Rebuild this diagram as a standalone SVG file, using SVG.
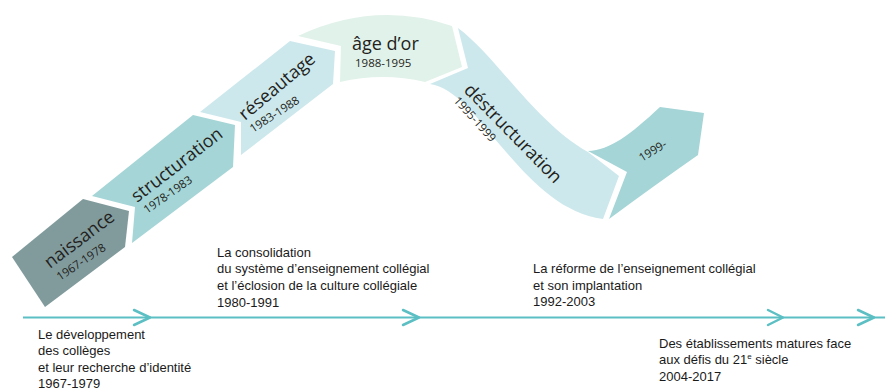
<svg xmlns="http://www.w3.org/2000/svg" width="885" height="390" viewBox="0 0 885 390">
<style>
.name{font-family:"Open Sans","Noto Sans",sans-serif;font-size:18px;fill:#231f20}
.date{font-family:"Open Sans","Noto Sans",sans-serif;font-size:11.5px;fill:#231f20}
.lbl{font-family:"Liberation Sans",Arial,sans-serif;font-size:13px;fill:#1a1a1a}
.tl{stroke:#5bbfc3;stroke-width:2;fill:none}
.chev{stroke:#5bbfc3;stroke-width:2.5;fill:none;stroke-linecap:round;stroke-linejoin:round}
</style>
<rect width="885" height="390" fill="#ffffff"/>
<g id="naissance">
<polygon points="12,257 83,199 129,211 125,247 45,307" fill="#819b9d"/>
<text class="name" transform="translate(50,269) rotate(-37)">naissance</text>
<text class="date" transform="translate(60,281) rotate(-34)">1967-1978</text>
</g>
<g id="structuration">
<polygon points="92,196 193,115 235,125 233,167 132,243 135,207" fill="#a5d5d6"/>
<text class="name" transform="translate(137,203) rotate(-37.5)">structuration</text>
<text class="date" transform="translate(147,214) rotate(-35)">1978-1983</text>
</g>
<g id="reseautage">
<polygon points="200,112 290,41 335,51 333,84 241,155 241,122" fill="#cde8ec"/>
<text class="name" transform="translate(245,121) rotate(-40)">réseautage</text>
<text class="date" transform="translate(253,133) rotate(-33)">1983-1988</text>
</g>
<g id="age-dor">
<path d="M298,36 Q375,0 452,26 L462,67 L425,82 Q383,72 340,82 L341,46 Z" fill="#e1f2ea"/>
<text class="name" x="352" y="50" font-size="17.5">âge d’or</text>
<text class="date" x="355" y="67">1988-1995</text>
</g>
<g id="destructuration">
<path d="M458,28 C495,55 535,122 588,152 L619,176 L603,219 C560,213 530,180 500,145 C475,115 455,88 430,84 L468,68 Z" fill="#cde8ec"/>
<text class="name" transform="translate(463,91) rotate(45.6)">déstructuration</text>
<text class="date" transform="translate(453,101) rotate(47.8)">1995-1999</text>
</g>
<g id="n1999">
<path d="M588,151 C610,150 630,135 660,107 L704,113 L698,155 Q655,185 609,219 L627,172 Z" fill="#a5d5d6"/>
<text class="date" transform="translate(642,162) rotate(-31.6)">1999-</text>
</g>
<g id="connectors">
<line class="tl" x1="23" y1="317.5" x2="885" y2="317.5"/>
<polyline class="chev" points="134,310 150,317.5 134,325"/>
<polyline class="chev" points="403,310 419,317.5 403,325"/>
<polyline class="chev" points="768,310 783,317.5 768,325"/>
<polyline class="chev" points="858,310 874,317.5 858,325"/>
</g>
<g id="period1">
<text class="lbl" x="38" y="338.5">Le développement</text>
<text class="lbl" x="38" y="355">des collèges</text>
<text class="lbl" x="38" y="371.5">et leur recherche d’identité</text>
<text class="lbl" x="38" y="387.5">1967-1979</text>
</g>
<g id="period2">
<text class="lbl" x="217" y="256.5">La consolidation</text>
<text class="lbl" x="217" y="273.3">du système d’enseignement collégial</text>
<text class="lbl" x="217" y="290.1">et l’éclosion de la culture collégiale</text>
<text class="lbl" x="217" y="306.9">1980-1991</text>
</g>
<g id="period3">
<text class="lbl" x="533" y="273">La réforme de l’enseignement collégial</text>
<text class="lbl" x="533" y="289.7">et son implantation</text>
<text class="lbl" x="533" y="306.4">1992-2003</text>
</g>
<g id="period4">
<text class="lbl" x="659" y="347.7">Des établissements matures face</text>
<text class="lbl" x="659" y="364.4">aux défis du 21<tspan font-size="8" dy="-5">e</tspan><tspan dy="5"> siècle</tspan></text>
<text class="lbl" x="659" y="381">2004-2017</text>
</g>
</svg>
